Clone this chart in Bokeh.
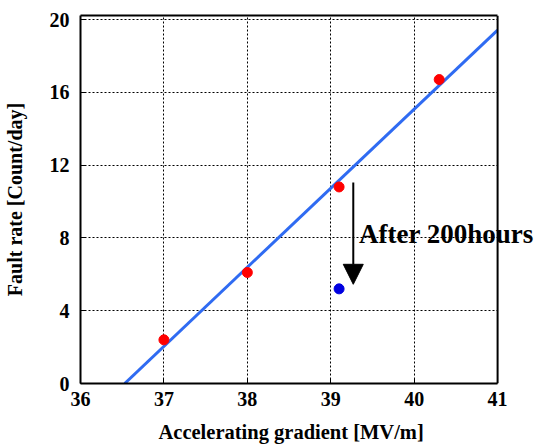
from bokeh.plotting import figure
from bokeh.models import (Range1d, FixedTicker, Label, Arrow, NormalHead, LinearAxis,
                          Span, BoxAnnotation, Title)
from bokeh.embed import file_html
from bokeh.resources import INLINE

# Data
x_before = [37.0, 38.0, 39.1, 40.3]
y_before = [2.4, 6.1, 10.8, 16.7]
x_after = [39.1]
y_after = [5.2]
x_fit = [36.53, 41.0]
y_fit = [0.0, 19.42]
x_ticks = [36, 37, 38, 39, 40, 41]
y_ticks = [0, 4, 8, 12, 16, 20]
x_min, x_max = 36, 41
y_min, y_max = 0, 20.22
arrow_x = 39.27
arrow_y_start = 11.05
arrow_y_end = 5.45
note_text = "After 200hours"
note_x = 39.34
note_y = 8.24
x_label = "Accelerating gradient [MV/m]"
y_label = "Fault rate [Count/day]"

FONT = "Liberation Serif"
W, H = 539, 445
LEFT, RIGHT, TOP, BOTTOM = 79, 0, 15, 62
BOX_RIGHT = 497
# the annotation text runs past the right edge of the box, so the frame is widened
# to the canvas edge and the box edge at x_max is drawn explicitly
box_w = BOX_RIGHT - LEFT
x_extra = (W - BOX_RIGHT) * (x_max - x_min) / box_w

p = figure(width=W, height=H, output_backend="svg", toolbar_location=None, title=None,
           x_range=Range1d(x_min, x_max + x_extra), y_range=Range1d(y_min, y_max),
           min_border_left=LEFT, min_border_right=RIGHT, min_border_top=TOP,
           min_border_bottom=BOTTOM)
p.outline_line_color = None


def style_axis(ax, ticks):
    ax.ticker = FixedTicker(ticks=ticks)
    ax.major_label_text_font = FONT
    ax.major_label_text_font_style = "bold"
    ax.major_label_text_font_size = "20px"
    ax.major_label_text_color = "black"
    ax.axis_label_text_font = FONT
    ax.axis_label_text_font_style = "bold"
    ax.axis_label_text_font_size = "20px"
    ax.axis_label_text_color = "black"
    ax.axis_line_color = "black"
    ax.axis_line_width = 2
    ax.major_tick_in = 5
    ax.major_tick_out = 0
    ax.major_tick_line_color = "black"
    ax.major_tick_line_width = 1
    ax.minor_tick_line_color = None


style_axis(p.xaxis[0], x_ticks)
style_axis(p.yaxis[0], y_ticks)
p.xaxis[0].bounds = (x_min, x_max)
p.yaxis.axis_label = y_label
p.xaxis.major_label_standoff = 8
p.yaxis.major_label_standoff = 11
p.yaxis.axis_label_standoff = 21

# x title centred under the box (not under the widened frame)
x_title_size = 20.5
p.add_layout(Title(text=x_label, align="left", offset=78, standoff=0,
                   padding=dict(left=0, right=0, top=10, bottom=0),
                   text_font=FONT, text_font_style="bold",
                   text_font_size=f"{x_title_size}px", text_color="black"), "below")

# top edge of the box
top_axis = LinearAxis(bounds=(x_min, x_max), ticker=FixedTicker(ticks=[]))
top_axis.axis_line_color = "black"
top_axis.axis_line_width = 2
top_axis.major_tick_line_color = None
top_axis.minor_tick_line_color = None
p.add_layout(top_axis, "above")

for g in (p.xgrid[0], p.ygrid[0]):
    g.grid_line_color = "black"
    g.grid_line_dash = "2 2"
    g.grid_line_width = 1

p.line(x_fit, y_fit, line_color="#2f6bf2", line_width=3)
p.scatter(x_before, y_before, size=10, fill_color="#ff0000", line_color="#ff0000")
p.scatter(x_after, y_after, size=10, fill_color="#0000e0", line_color="#0000e0")

# blank out the part of the widened frame beyond the box, then draw the box's right edge
p.add_layout(BoxAnnotation(left=x_max, fill_color="white", fill_alpha=1.0, line_color=None))
p.add_layout(Span(location=x_max, dimension="height", line_color="black", line_width=2))

p.add_layout(Arrow(end=NormalHead(size=20, fill_color="black", line_color="black"),
                   x_start=arrow_x, y_start=arrow_y_start, x_end=arrow_x, y_end=arrow_y_end,
                   line_color="black", line_width=2))
p.add_layout(Label(x=note_x, y=note_y, text=note_text, text_font=FONT,
                   text_font_style="bold", text_font_size="27px", text_color="black",
                   text_baseline="alphabetic"))

open("out.html", "w").write(file_html(p, INLINE))
